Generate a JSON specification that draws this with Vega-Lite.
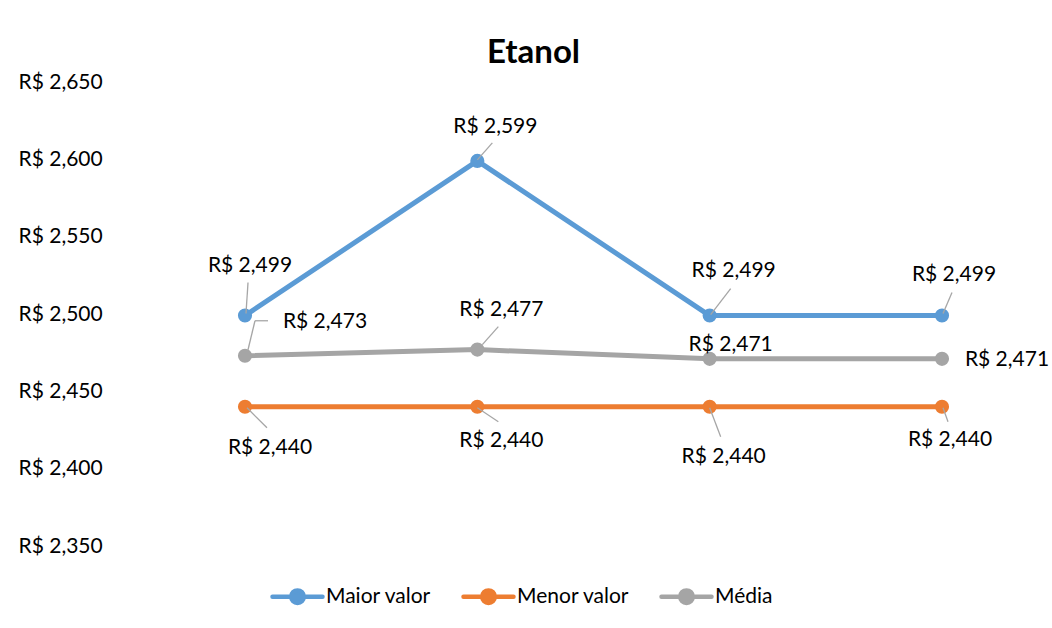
{
  "$schema": "https://vega.github.io/schema/vega-lite/v6.json",
  "width": 697,
  "height": 464,
  "autosize": {"type": "none"},
  "padding": {"left": 245, "top": 82, "right": 110, "bottom": 82},
  "background": "white",
  "config": {
    "locale": {"number": {"decimal": ",", "thousands": ".", "grouping": [3], "currency": ["R$ ", ""]}},
    "view": {"stroke": null},
    "font": "Lato"
  },
  "title": {"text": "Etanol", "font": "Lato", "fontWeight": "bold", "fontSize": 33, "color": "#000000", "anchor": "middle", "dx": -60, "offset": -25, "baseline": "alphabetic"},
  "data": {"values": [
    {"serie": "Maior valor", "ponto": 1, "valor": 2.499},
    {"serie": "Maior valor", "ponto": 2, "valor": 2.599},
    {"serie": "Maior valor", "ponto": 3, "valor": 2.499},
    {"serie": "Maior valor", "ponto": 4, "valor": 2.499},
    {"serie": "Menor valor", "ponto": 1, "valor": 2.44},
    {"serie": "Menor valor", "ponto": 2, "valor": 2.44},
    {"serie": "Menor valor", "ponto": 3, "valor": 2.44},
    {"serie": "Menor valor", "ponto": 4, "valor": 2.44},
    {"serie": "Média", "ponto": 1, "valor": 2.473},
    {"serie": "Média", "ponto": 2, "valor": 2.477},
    {"serie": "Média", "ponto": 3, "valor": 2.471},
    {"serie": "Média", "ponto": 4, "valor": 2.471}
  ]},
  "encoding": {
    "x": {"field": "ponto", "type": "quantitative", "scale": {"domain": [1, 4]}, "axis": null},
    "y": {"field": "valor", "type": "quantitative", "scale": {"domain": [2.35, 2.65]},
      "axis": {"title": null, "values": [2.35, 2.4, 2.45, 2.5, 2.55, 2.6, 2.65], "format": "$.3f", "domain": false, "ticks": false, "grid": false, "labelAlign": "left", "labelPadding": 227, "labelFont": "Lato", "labelFontSize": 21, "labelColor": "#000000", "labelBaseline": "middle"}}
  },
  "layer": [
    {
      "mark": {"type": "line", "strokeWidth": 5, "strokeJoin": "round", "strokeCap": "round"},
      "encoding": {
        "color": {"field": "serie", "type": "nominal",
          "scale": {"domain": ["Maior valor", "Menor valor", "Média"], "range": ["#5B9BD5", "#ED7D31", "#A5A5A5"]},
          "legend": {"orient": "none", "legendX": 25, "legendY": 487, "direction": "horizontal", "title": null, "gridAlign": "each",
            "symbolType": "M-1,0L1,0M-0.25,0A0.25,0.25,0,1,1,0.25,0A0.25,0.25,0,1,1,-0.25,0Z",
            "symbolSize": 2500, "symbolStrokeWidth": 4.5, "labelFont": "Lato", "labelFontSize": 21, "labelColor": "#000000", "labelOffset": 1, "columnPadding": 22,
            "encode": {"symbols": {"update": {"fill": {"scale": "color", "field": "value"}, "stroke": {"scale": "color", "field": "value"}, "strokeCap": {"value": "round"}, "opacity": {"value": 1}}}}}
        }
      }
    },
    {
      "mark": {"type": "point", "filled": true, "size": 200, "opacity": 1, "shape": "circle"},
      "encoding": {"color": {"field": "serie", "type": "nominal"}}
    },
    {"transform": [{"filter": "datum.serie === 'Maior valor' && datum.ponto === 1"}], "mark": {"type": "rule", "color": "#A6A6A6", "strokeWidth": 1.3, "xOffset": 1, "yOffset": -2, "x2Offset": 3, "y2Offset": -33}, "encoding": {"x2": {"field": "ponto"}, "y2": {"field": "valor"}}},
    {"transform": [{"filter": "datum.serie === 'Maior valor' && datum.ponto === 2"}], "mark": {"type": "rule", "color": "#A6A6A6", "strokeWidth": 1.3, "xOffset": 0, "yOffset": -1, "x2Offset": 15, "y2Offset": -18}, "encoding": {"x2": {"field": "ponto"}, "y2": {"field": "valor"}}},
    {"transform": [{"filter": "datum.serie === 'Maior valor' && datum.ponto === 3"}], "mark": {"type": "rule", "color": "#A6A6A6", "strokeWidth": 1.3, "xOffset": 1, "yOffset": -1, "x2Offset": 21, "y2Offset": -27}, "encoding": {"x2": {"field": "ponto"}, "y2": {"field": "valor"}}},
    {"transform": [{"filter": "datum.serie === 'Maior valor' && datum.ponto === 4"}], "mark": {"type": "rule", "color": "#A6A6A6", "strokeWidth": 1.3, "xOffset": 1, "yOffset": -2, "x2Offset": 10, "y2Offset": -23}, "encoding": {"x2": {"field": "ponto"}, "y2": {"field": "valor"}}},
    {"transform": [{"filter": "datum.serie === 'Média' && datum.ponto === 1"}], "mark": {"type": "rule", "color": "#A6A6A6", "strokeWidth": 1.3, "xOffset": 3, "yOffset": -6, "x2Offset": 10, "y2Offset": -35}, "encoding": {"x2": {"field": "ponto"}, "y2": {"field": "valor"}}},
    {"transform": [{"filter": "datum.serie === 'Média' && datum.ponto === 1"}], "mark": {"type": "rule", "color": "#A6A6A6", "strokeWidth": 1.3, "xOffset": 10, "yOffset": -35, "x2Offset": 23, "y2Offset": -35}, "encoding": {"x2": {"field": "ponto"}, "y2": {"field": "valor"}}},
    {"transform": [{"filter": "datum.serie === 'Média' && datum.ponto === 2"}], "mark": {"type": "rule", "color": "#A6A6A6", "strokeWidth": 1.3, "xOffset": 5, "yOffset": -5, "x2Offset": 21, "y2Offset": -23}, "encoding": {"x2": {"field": "ponto"}, "y2": {"field": "valor"}}},
    {"transform": [{"filter": "datum.serie === 'Menor valor' && datum.ponto === 1"}], "mark": {"type": "rule", "color": "#A6A6A6", "strokeWidth": 1.3, "xOffset": 2, "yOffset": 1, "x2Offset": 22, "y2Offset": 21}, "encoding": {"x2": {"field": "ponto"}, "y2": {"field": "valor"}}},
    {"transform": [{"filter": "datum.serie === 'Menor valor' && datum.ponto === 2"}], "mark": {"type": "rule", "color": "#A6A6A6", "strokeWidth": 1.3, "xOffset": 0, "yOffset": 1, "x2Offset": 21, "y2Offset": 15}, "encoding": {"x2": {"field": "ponto"}, "y2": {"field": "valor"}}},
    {"transform": [{"filter": "datum.serie === 'Menor valor' && datum.ponto === 3"}], "mark": {"type": "rule", "color": "#A6A6A6", "strokeWidth": 1.3, "xOffset": 0, "yOffset": 1, "x2Offset": 11, "y2Offset": 30}, "encoding": {"x2": {"field": "ponto"}, "y2": {"field": "valor"}}},
    {"transform": [{"filter": "datum.serie === 'Menor valor' && datum.ponto === 4"}], "mark": {"type": "rule", "color": "#A6A6A6", "strokeWidth": 1.3, "xOffset": 1, "yOffset": 1, "x2Offset": 6, "y2Offset": 15}, "encoding": {"x2": {"field": "ponto"}, "y2": {"field": "valor"}}},
    {"transform": [{"filter": "datum.serie === 'Maior valor' && datum.ponto === 1"}], "mark": {"type": "text", "dx": 5, "dy": -50, "font": "Lato", "fontSize": 21, "color": "#000000"}, "encoding": {"text": {"field": "valor", "type": "quantitative", "format": "$.3f"}}},
    {"transform": [{"filter": "datum.serie === 'Maior valor' && datum.ponto === 2"}], "mark": {"type": "text", "dx": 18, "dy": -34, "font": "Lato", "fontSize": 21, "color": "#000000"}, "encoding": {"text": {"field": "valor", "type": "quantitative", "format": "$.3f"}}},
    {"transform": [{"filter": "datum.serie === 'Maior valor' && datum.ponto === 3"}], "mark": {"type": "text", "dx": 24, "dy": -45, "font": "Lato", "fontSize": 21, "color": "#000000"}, "encoding": {"text": {"field": "valor", "type": "quantitative", "format": "$.3f"}}},
    {"transform": [{"filter": "datum.serie === 'Maior valor' && datum.ponto === 4"}], "mark": {"type": "text", "dx": 12, "dy": -41, "font": "Lato", "fontSize": 21, "color": "#000000"}, "encoding": {"text": {"field": "valor", "type": "quantitative", "format": "$.3f"}}},
    {"transform": [{"filter": "datum.serie === 'Média' && datum.ponto === 1"}], "mark": {"type": "text", "dx": 80, "dy": -34, "font": "Lato", "fontSize": 21, "color": "#000000"}, "encoding": {"text": {"field": "valor", "type": "quantitative", "format": "$.3f"}}},
    {"transform": [{"filter": "datum.serie === 'Média' && datum.ponto === 2"}], "mark": {"type": "text", "dx": 24, "dy": -40, "font": "Lato", "fontSize": 21, "color": "#000000"}, "encoding": {"text": {"field": "valor", "type": "quantitative", "format": "$.3f"}}},
    {"transform": [{"filter": "datum.serie === 'Média' && datum.ponto === 3"}], "mark": {"type": "text", "dx": 21, "dy": -14, "font": "Lato", "fontSize": 21, "color": "#000000"}, "encoding": {"text": {"field": "valor", "type": "quantitative", "format": "$.3f"}}},
    {"transform": [{"filter": "datum.serie === 'Média' && datum.ponto === 4"}], "mark": {"type": "text", "dx": 65, "dy": 1, "font": "Lato", "fontSize": 21, "color": "#000000"}, "encoding": {"text": {"field": "valor", "type": "quantitative", "format": "$.3f"}}},
    {"transform": [{"filter": "datum.serie === 'Menor valor' && datum.ponto === 1"}], "mark": {"type": "text", "dx": 25, "dy": 41, "font": "Lato", "fontSize": 21, "color": "#000000"}, "encoding": {"text": {"field": "valor", "type": "quantitative", "format": "$.3f"}}},
    {"transform": [{"filter": "datum.serie === 'Menor valor' && datum.ponto === 2"}], "mark": {"type": "text", "dx": 24, "dy": 34, "font": "Lato", "fontSize": 21, "color": "#000000"}, "encoding": {"text": {"field": "valor", "type": "quantitative", "format": "$.3f"}}},
    {"transform": [{"filter": "datum.serie === 'Menor valor' && datum.ponto === 3"}], "mark": {"type": "text", "dx": 14, "dy": 50, "font": "Lato", "fontSize": 21, "color": "#000000"}, "encoding": {"text": {"field": "valor", "type": "quantitative", "format": "$.3f"}}},
    {"transform": [{"filter": "datum.serie === 'Menor valor' && datum.ponto === 4"}], "mark": {"type": "text", "dx": 8, "dy": 33, "font": "Lato", "fontSize": 21, "color": "#000000"}, "encoding": {"text": {"field": "valor", "type": "quantitative", "format": "$.3f"}}}
  ]
}
